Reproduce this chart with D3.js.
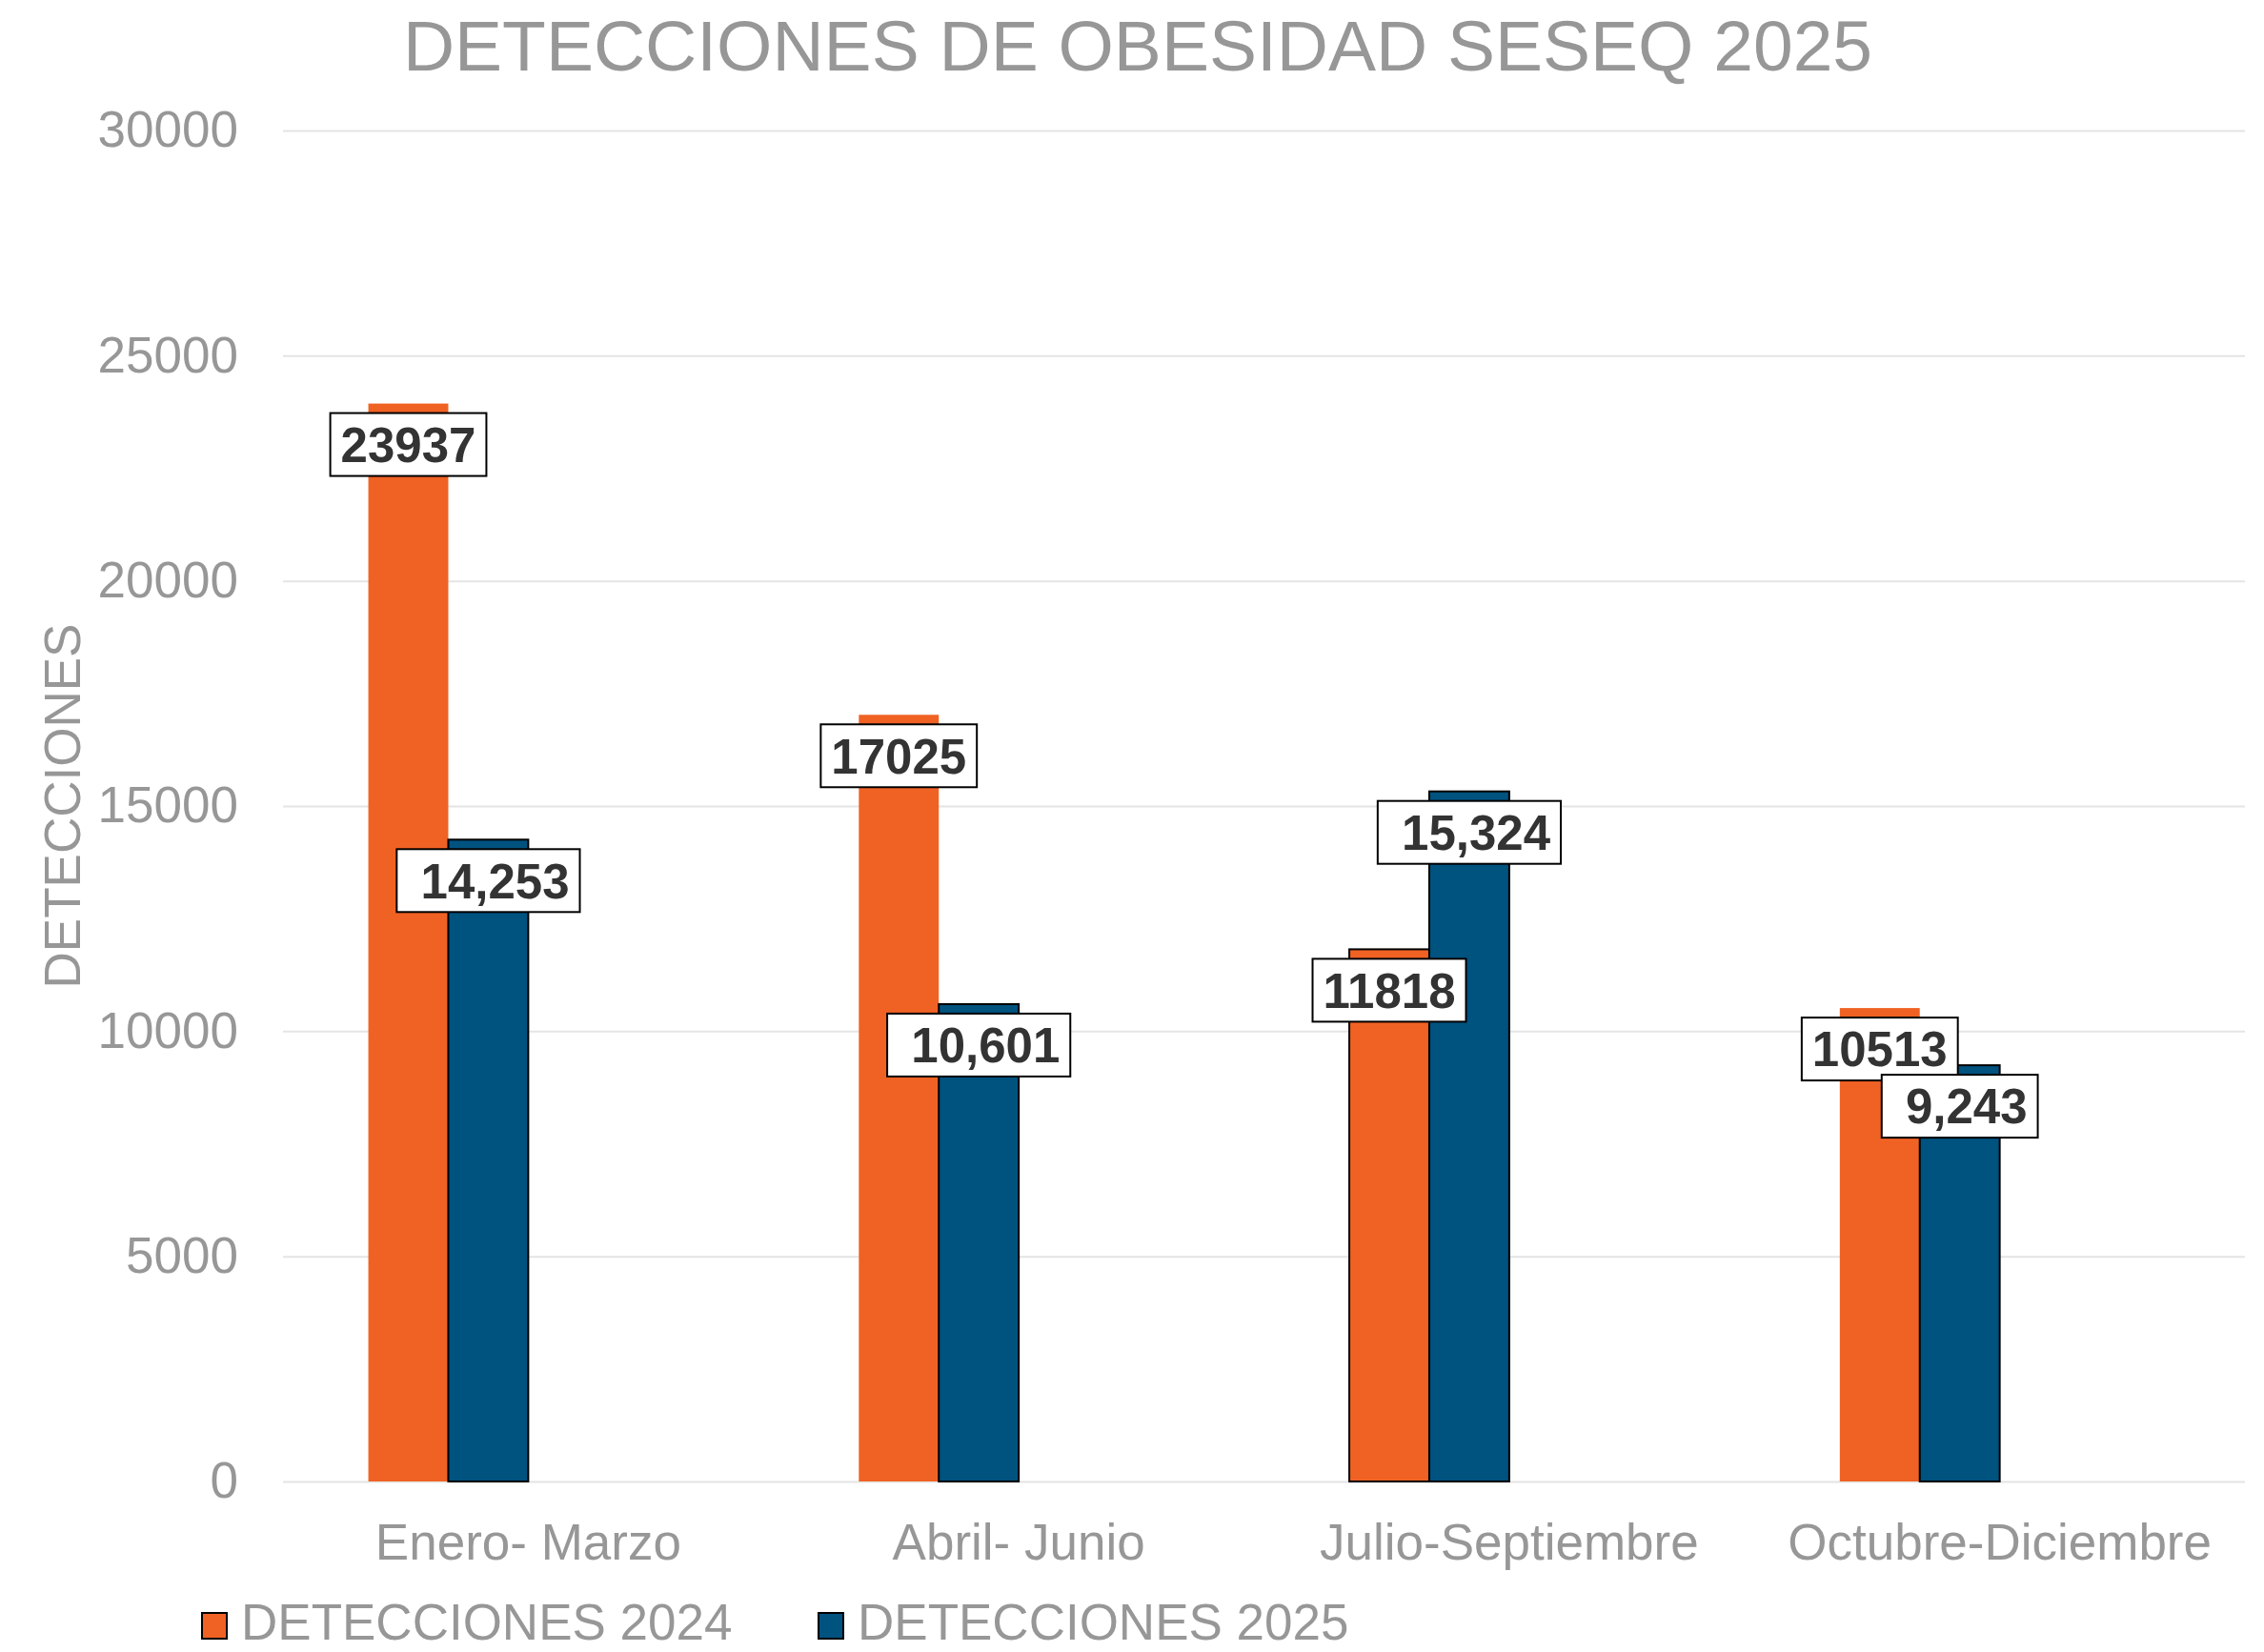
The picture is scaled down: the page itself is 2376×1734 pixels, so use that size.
<!DOCTYPE html>
<html>
<head>
<meta charset="utf-8">
<script src="https://cdn.jsdelivr.net/npm/d3@7"></script>
<style>
  body { margin: 0; background: #fff; }
  text { font-family: "Liberation Sans", Arial, sans-serif; }
</style>
</head>
<body>
<div id="chart"></div>
<script>
// chart data
var categories = ["Enero- Marzo", "Abril- Junio", "Julio-Septiembre", "Octubre-Diciembre"];
var series = ["DETECCIONES 2024", "DETECCIONES 2025"];
var values2024 = [23937, 17025, 11818, 10513];
var values2025 = [14253, 10601, 15324, 9243];
var yTicks = [0, 5000, 10000, 15000, 20000, 25000, 30000];

var width = 2376;
var height = 1734;

// margins
var margin = { top: 137, right: 20, bottom: 179, left: 297 };
var chartWidth = width - margin.left - margin.right;
var chartHeight = height - margin.top - margin.bottom;

var colors = ["#F06224", "#00527F"];
var grey = "#979797";
// the one orange bar that has an outline in the original
var outlinedOrange = "Julio-Septiembre";

var svg = d3.select("#chart").append("svg")
    .attr("width", width)
    .attr("height", height);

var chartGroup = svg.append("g")
    .attr("transform", `translate(${margin.left}, ${margin.top})`);

// build rows from the arrays
var rows = categories.map(function(c, i) {
    return { cat: c, vals: [values2024[i], values2025[i]] };
});

// scales
var x0 = d3.scaleBand()
    .domain(categories)
    .range([0, chartWidth]);

var bw = x0.bandwidth();
var x1 = d3.scaleBand()
    .domain(series)
    .range([bw * 0.174, bw * 0.5]);

var y = d3.scaleLinear()
    .domain([0, 30000])
    .range([chartHeight, 0]);

// y axis with gridlines
var leftAxis = d3.axisLeft(y)
    .tickValues(yTicks)
    .tickFormat(d3.format("d"))
    .tickSize(-chartWidth)
    .tickPadding(47);

var yAxisG = chartGroup.append("g").call(leftAxis);
yAxisG.select(".domain").remove();
yAxisG.selectAll("line")
    .attr("stroke", "#e4e4e4")
    .attr("stroke-width", 2);
yAxisG.selectAll("text")
    .attr("fill", grey)
    .style("font-size", "53px");

// x axis labels
var bottomAxis = d3.axisBottom(x0)
    .tickSize(0)
    .tickPadding(44);

var xAxisG = chartGroup.append("g")
    .attr("transform", `translate(0, ${chartHeight})`)
    .call(bottomAxis);
xAxisG.select(".domain").remove();
xAxisG.selectAll("text")
    .attr("fill", grey)
    .style("font-size", "53px");

// bars
var groups = chartGroup.selectAll(".grp")
    .data(rows)
    .enter()
    .append("g")
    .attr("class", "grp")
    .attr("transform", d => `translate(${x0(d.cat)}, 0)`);

groups.selectAll("rect")
    .data(d => d.vals.map((v, i) => ({ cat: d.cat, key: series[i], i: i, v: v })))
    .enter()
    .append("rect")
    .attr("x", d => x1(d.key))
    .attr("y", d => y(d.v))
    .attr("width", x1.bandwidth())
    .attr("height", d => chartHeight - y(d.v))
    .attr("fill", d => colors[d.i])
    .attr("stroke", d => (d.i == 1 || d.cat == outlinedOrange) ? "#000" : "none")
    .attr("stroke-width", 2);

// data labels (boxed)
var fmt2024 = d3.format("d");
var fmt2025 = d3.format(",");

var labels = groups.selectAll(".lbl")
    .data(d => d.vals.map((v, i) => ({ key: series[i], i: i, v: v })))
    .enter()
    .append("g")
    .attr("class", "lbl")
    .attr("transform", d => `translate(${x1(d.key) + x1.bandwidth() / 2}, ${y(d.v) + 43})`);

labels.each(function(d) {
    var g = d3.select(this);
    var rect = g.append("rect");
    var txt = g.append("text")
        .text(d.i == 0 ? fmt2024(d.v) : " " + fmt2025(d.v))
        .attr("text-anchor", "middle")
        .attr("dy", "0.36em")
        .attr("fill", "#333333")
        .style("white-space", "pre")
        .style("font-size", "51px")
        .style("font-weight", "bold");
    var w = txt.node().getComputedTextLength() + 22;
    rect.attr("x", -w / 2)
        .attr("y", -33)
        .attr("width", w)
        .attr("height", 66)
        .attr("fill", "#fff")
        .attr("stroke", "#000")
        .attr("stroke-width", 2);
});

// title
svg.append("text")
    .attr("x", 1194)
    .attr("y", 74)
    .attr("text-anchor", "middle")
    .attr("fill", grey)
    .style("font-size", "75px")
    .text("DETECCIONES DE OBESIDAD SESEQ 2025");

// y axis title
svg.append("text")
    .attr("transform", "translate(84, 846) rotate(-90)")
    .attr("text-anchor", "middle")
    .attr("fill", grey)
    .style("font-size", "53px")
    .text("DETECCIONES");

// legend
var legendX = [212, 859];
var legend = svg.selectAll(".leg")
    .data(series)
    .enter()
    .append("g")
    .attr("class", "leg")
    .attr("transform", (d, i) => `translate(${legendX[i]}, 1693)`);

legend.append("rect")
    .attr("width", 26)
    .attr("height", 27)
    .attr("fill", (d, i) => colors[i])
    .attr("stroke", "#000")
    .attr("stroke-width", 2);

legend.append("text")
    .attr("x", 41)
    .attr("y", 28)
    .attr("fill", grey)
    .style("font-size", "53px")
    .text(d => d);
</script>
</body>
</html>
